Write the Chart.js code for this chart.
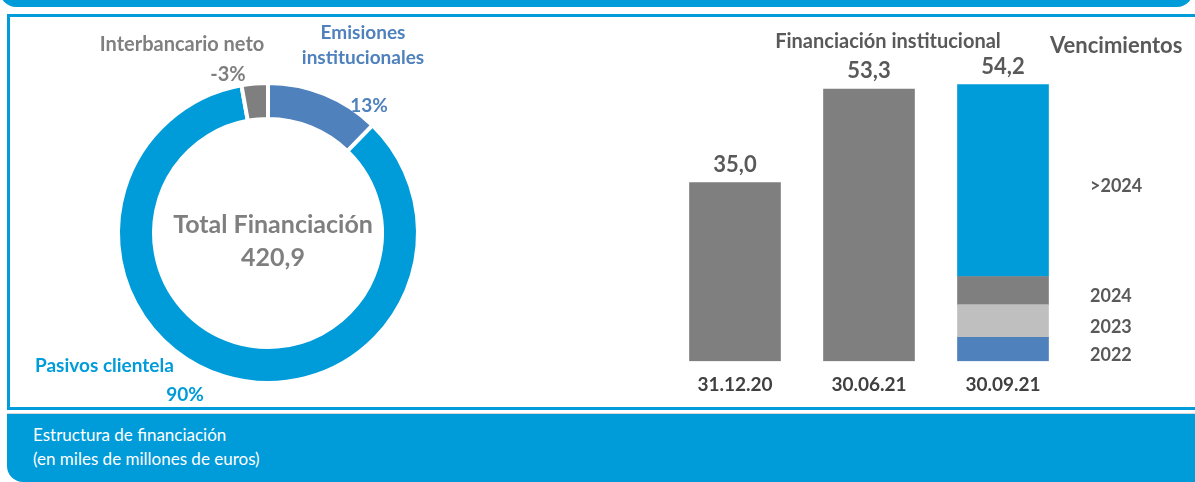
<!DOCTYPE html>
<html>
<head>
<meta charset="utf-8">
<script src="https://cdn.jsdelivr.net/npm/chart.js@4/dist/chart.umd.min.js"></script>
<style>
  html, body { margin: 0; padding: 0; }
  body { width: 1195px; height: 482px; overflow: hidden; position: relative; background: #fff; font-family: Lato, "Open Sans", sans-serif; }
  .topband { position: absolute; left: 0; top: -22px; width: 1193px; height: 29px; background: #009bd9; border-radius: 0 0 16px 16px; }
  .panel { position: absolute; left: 7px; top: 14px; width: 1200px; height: 396px; border: 3px solid #009bd9; border-right: none; box-sizing: border-box; }
  .bottom { position: absolute; left: 7px; top: 413px; width: 1200px; height: 69px; background: #009bd9; border-radius: 0 0 0 16px; border-top: 1px solid #d8d8d8; box-sizing: border-box; }
  .bottom div { position: absolute; left: 26px; color: #fff; font-size: 17px; }
  canvas { position: absolute; left: 0; top: 0; }
</style>
</head>
<body>
<div class="topband"></div>
<div class="panel"></div>
<div class="bottom">
  <div style="top: 10px;">Estructura de financiación</div>
  <div style="top: 34px;">(en miles de millones de euros)</div>
</div>
<canvas id="pie" width="1195" height="482"></canvas>
<canvas id="bars" width="1195" height="482"></canvas>
<script>
// doughnut: estructura de financiación (%)
const pieLabels = ["Emisiones institucionales", "Pasivos clientela", "Interbancario neto"];
const piePct = [13, 90, -3];
const pieColors = ["#4f81bd", "#009bd9", "#7f7f7f"];
const totalFinanciacion = 420.9;

// bars: financiación institucional
const barDates = ["31.12.20", "30.06.21", "30.09.21"];
const financInst = [35.0, 53.3, null];
const venc2022 = [null, null, 4.7];
const venc2023 = [null, null, 6.4];
const venc2024 = [null, null, 5.5];
const vencMas2024 = [null, null, 37.6];

const fmt = v => v.toFixed(1).replace(".", ",");
const bold = px => "bold " + px + "px Lato, 'Open Sans', sans-serif";

const pieText = {
  id: "pieText",
  afterDraw(chart) {
    const c = chart.ctx;
    c.save();
    c.textBaseline = "middle";
    c.textAlign = "center";
    c.fillStyle = "#7f7f7f";
    c.font = bold(20);
    c.fillText(pieLabels[2], 182, 45);
    c.fillText(piePct[2] + "%", 228, 75);
    c.font = bold(25);
    c.fillText("Total Financiación", 273, 225);
    c.fillText(fmt(totalFinanciacion), 273, 258);
    c.fillStyle = "#4f81bd";
    c.font = bold(19);
    c.fillText("Emisiones", 363, 33);
    c.fillText("institucionales", 363, 58);
    c.fillText(piePct[0] + "%", 369, 106);
    c.fillStyle = "#009bd9";
    c.textAlign = "left";
    c.fillText(pieLabels[1], 35, 366);
    c.textAlign = "center";
    c.fillText(piePct[1] + "%", 185, 395);
    c.restore();
  }
};

new Chart(document.getElementById("pie"), {
  type: "doughnut",
  data: {
    labels: pieLabels,
    datasets: [{
      data: piePct.map(Math.abs),
      backgroundColor: pieColors,
      borderColor: "#ffffff",
      borderWidth: 4
    }]
  },
  options: {
    responsive: false,
    animation: false,
    cutout: "76%",
    layout: { padding: { left: 116, right: 775, top: 81, bottom: 97 } },
    plugins: { legend: { display: false }, tooltip: { enabled: false } }
  },
  plugins: [pieText]
});

const barText = {
  id: "barText",
  afterDatasetsDraw(chart) {
    const c = chart.ctx;
    const y = chart.scales.y;
    const x = chart.scales.x;
    c.save();
    c.fillStyle = "#595959";
    c.textAlign = "center";
    c.textBaseline = "bottom";
    c.font = bold(22);
    barDates.forEach((d, i) => {
      let sum = 0;
      chart.data.datasets.forEach(ds => { sum += ds.data[i] || 0; });
      c.fillText(fmt(sum), x.getPixelForValue(i), y.getPixelForValue(sum) - 7);
    });
    c.textBaseline = "middle";
    c.font = bold(20);
    c.fillText("Financiación institucional", 888, 42);
    c.font = bold(22);
    c.textAlign = "left";
    c.fillText("Vencimientos", 1050, 46);
    // etiquetas de vencimientos junto a cada tramo
    c.font = bold(18);
    for (let k = 1; k < chart.data.datasets.length; k++) {
      const el = chart.getDatasetMeta(k).data[2];
      const mid = (el.y + el.base) / 2;
      c.fillText(chart.data.datasets[k].label, 1090, mid + 6);
    }
    c.restore();
  }
};

new Chart(document.getElementById("bars"), {
  type: "bar",
  data: {
    labels: barDates,
    datasets: [
      { label: "Total", data: financInst, backgroundColor: "#7f7f7f" },
      { label: "2022", data: venc2022, backgroundColor: "#4f81bd" },
      { label: "2023", data: venc2023, backgroundColor: "#bfbfbf" },
      { label: "2024", data: venc2024, backgroundColor: "#7f7f7f" },
      { label: ">2024", data: vencMas2024, backgroundColor: "#009bd9" }
    ]
  },
  options: {
    responsive: false,
    animation: false,
    barThickness: 91,
    layout: { padding: { left: 668, right: 125, top: 55, bottom: 74 } },
    scales: {
      x: {
        stacked: true,
        grid: { display: false, drawTicks: false },
        border: { display: false },
        ticks: { padding: 12, color: "#404040", font: { family: "Lato", size: 19, weight: "bold" } }
      },
      y: { stacked: true, display: false, min: 0, max: 60 }
    },
    plugins: { legend: { display: false }, tooltip: { enabled: false } }
  },
  plugins: [barText]
});
</script>
</body>
</html>
